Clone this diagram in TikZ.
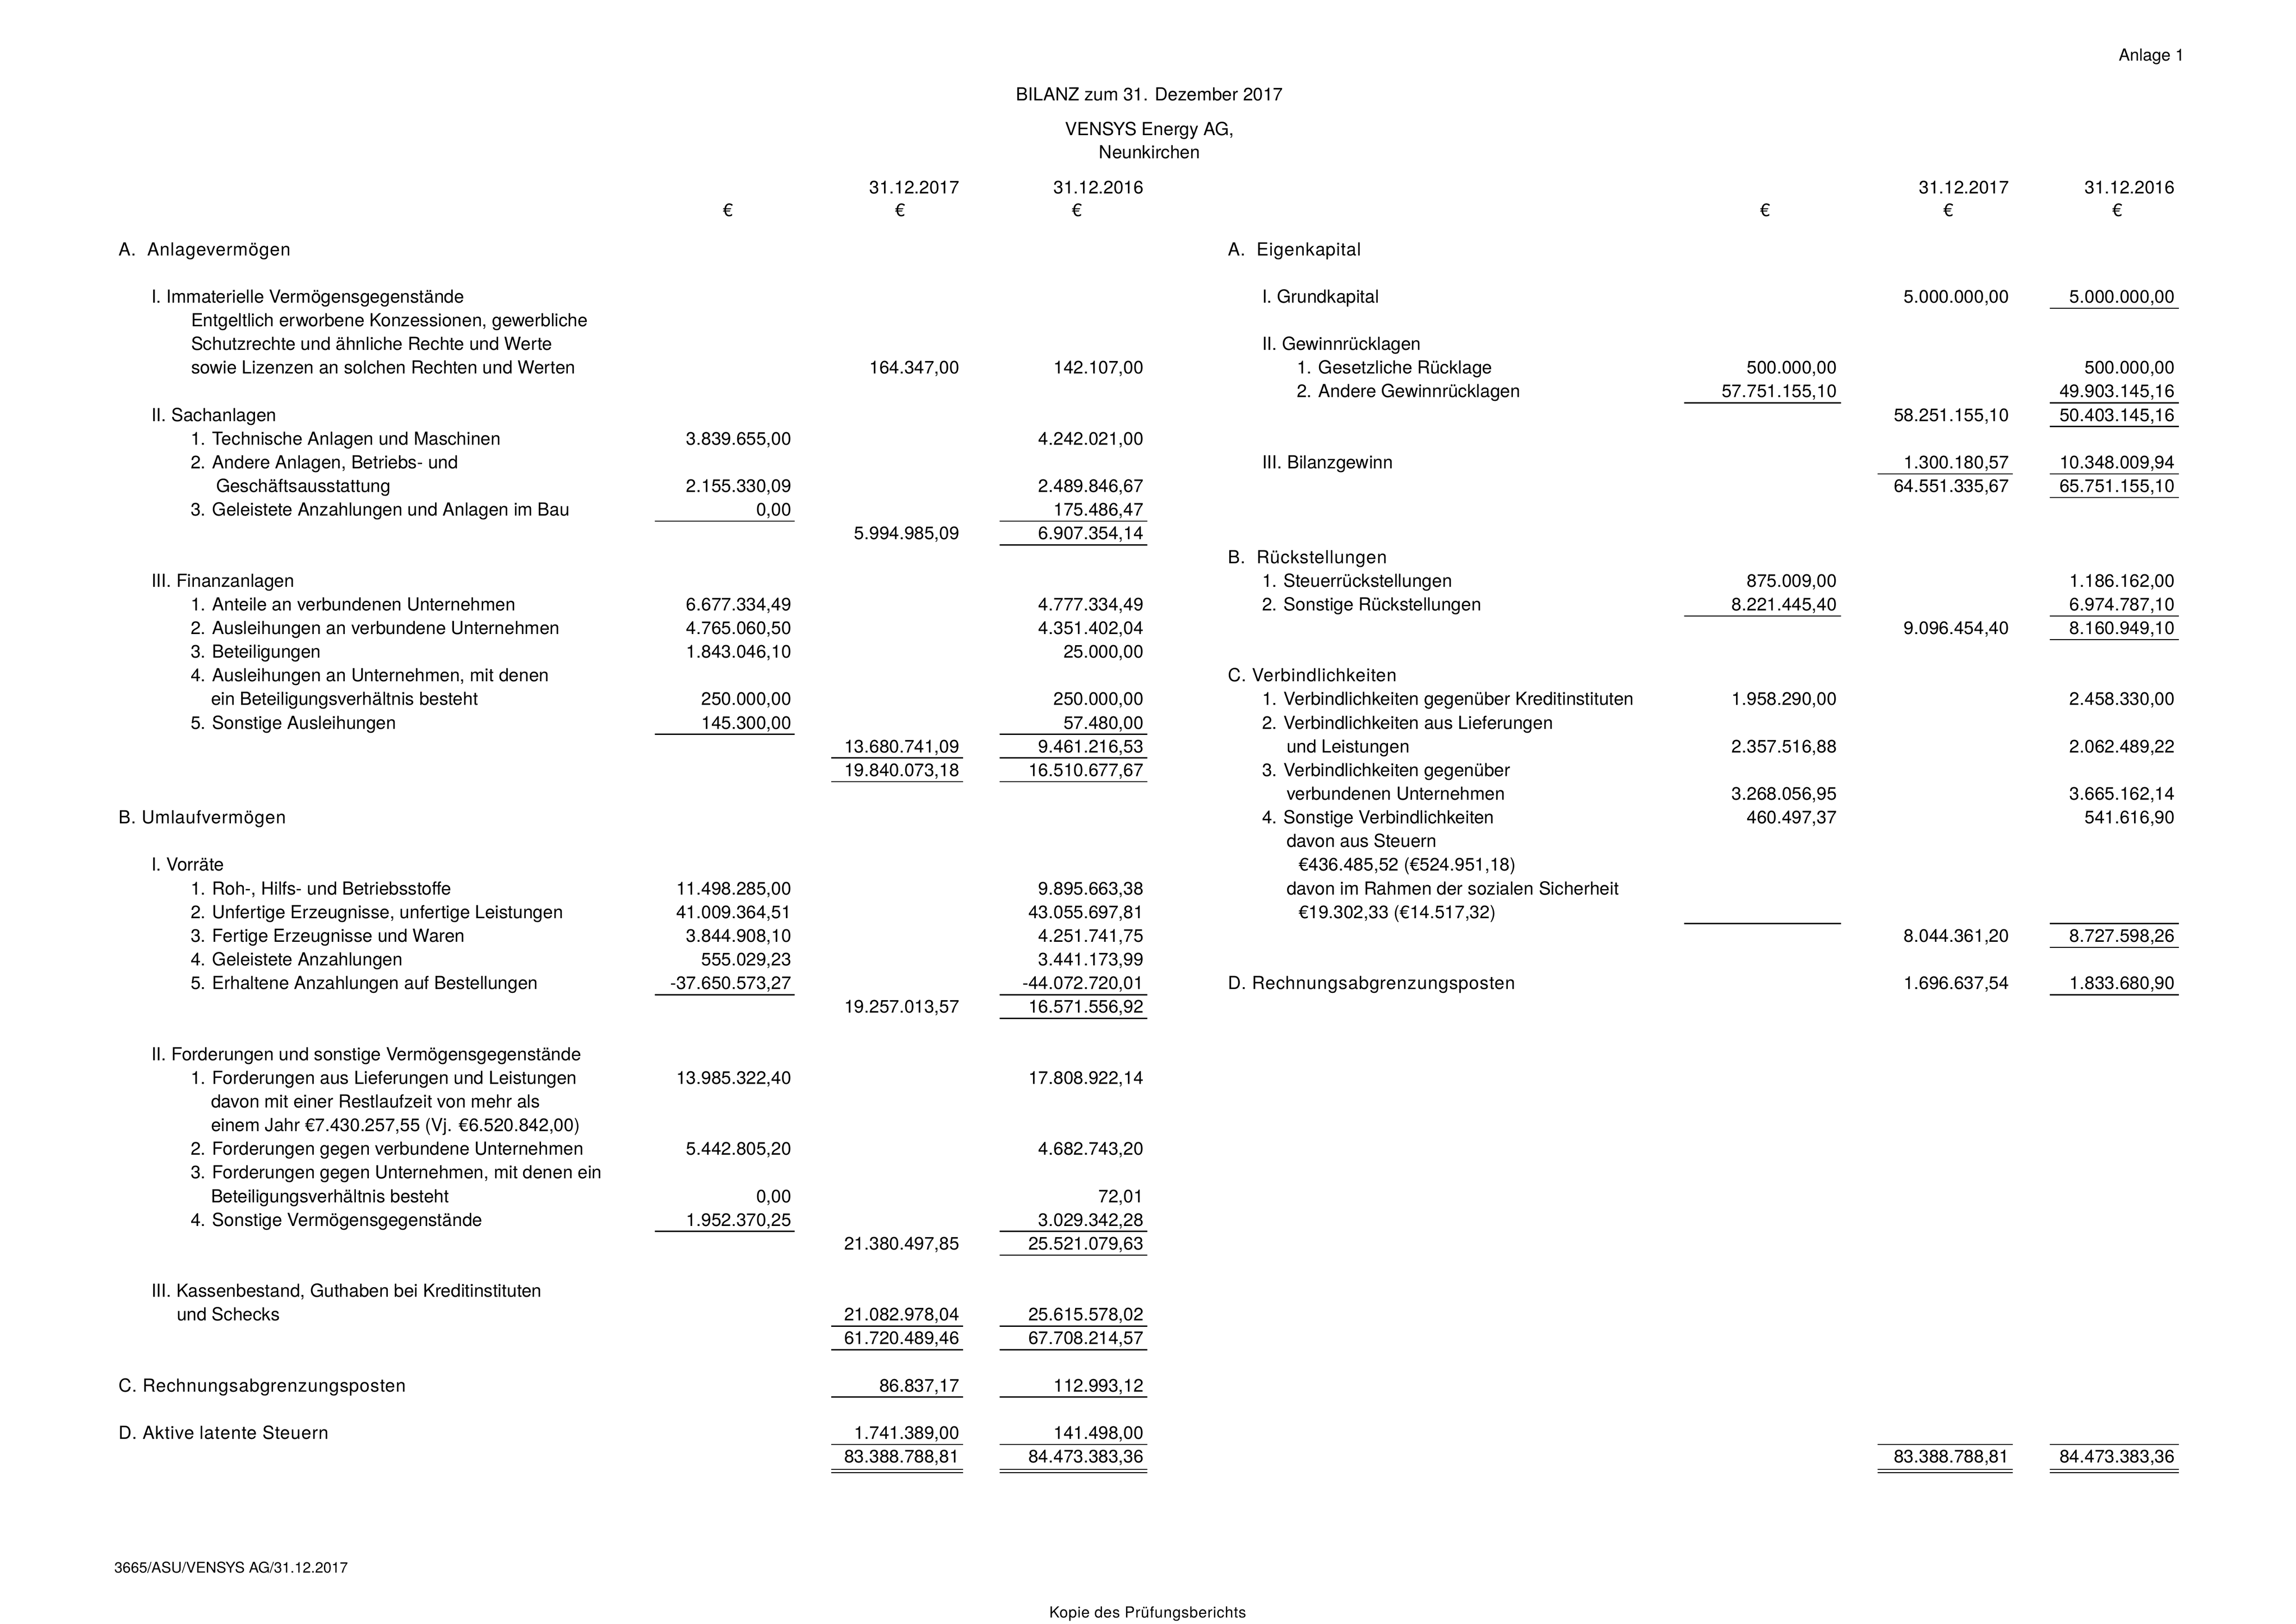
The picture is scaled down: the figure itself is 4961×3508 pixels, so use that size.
\documentclass[tikz,border=0pt]{standalone}
\usepackage{fontspec}
\setmainfont{TeX Gyre Heros}
\newfontfamily\hdfont[LetterSpace=3.3]{TeX Gyre Heros}
\newfontfamily\kpfont[LetterSpace=3.0]{TeX Gyre Heros}
\newcommand\bodysize{\fontsize{6.625pt}{8pt}\selectfont}

\tikzset{
  lab/.style={anchor=base west, inner sep=0pt, outer sep=0pt, font=\bodysize},
  hd/.style={anchor=base west, inner sep=0pt, outer sep=0pt, font=\hdfont\bodysize},
  val/.style={anchor=base east, inner sep=0pt, outer sep=0pt, font=\bodysize},
  ctr/.style={anchor=base, inner sep=0pt, outer sep=0pt, font=\bodysize},
  rule/.style={line width=0.443pt, line cap=butt},
  rulethin/.style={line width=0.42pt, line cap=butt}
}

\newcommand\RowY[1]{552+51.15*(#1)}
\newcommand\Lb[4]{\node[lab] (#1) at (#2,{\RowY{#3}}) {#4};}
\newcommand\Hd[4]{\node[hd] (#1) at (#2,{\RowY{#3}}) {#4};}
\newcommand\Va[4]{\node[val] (#1) at (#2,{\RowY{#3}}) {#4};}
\newcommand\Ul[3]{\draw[rule] (#1,{\RowY{#3}+11.5}) -- (#2,{\RowY{#3}+11.5});}
\newcommand\Dl[3]{\draw[rulethin] (#1,{\RowY{#3}+14}) -- (#2,{\RowY{#3}+14});
  \draw[rulethin] (#1,{\RowY{#3}+21.5}) -- (#2,{\RowY{#3}+21.5});}

\def\xLA{1710}\def\xLB{2073}\def\xLC{2471}
\def\xRA{3969}\def\xRB{4341}\def\xRC{4699}
\newcommand\uLA[1]{\Ul{1415}{1716.5}{#1}}
\newcommand\uLB[1]{\Ul{1796}{2080.5}{#1}}
\newcommand\uLC[1]{\Ul{2160}{2478.5}{#1}}
\newcommand\uRA[1]{\Ul{3638.5}{3977.5}{#1}}
\newcommand\uRB[1]{\Ul{4056.5}{4349}{#1}}
\newcommand\uRC[1]{\Ul{4428.5}{4707.5}{#1}}
\newcommand\dLB[1]{\Dl{1796}{2080.5}{#1}}
\newcommand\dLC[1]{\Dl{2160}{2478.5}{#1}}
\newcommand\dRB[1]{\Dl{4056.5}{4349}{#1}}
\newcommand\dRC[1]{\Dl{4428.5}{4707.5}{#1}}

\begin{document}
\begin{tikzpicture}[x=0.059867mm, y=-0.059867mm]
\fill[white] (0,0) rectangle (4961,3508);
\useasboundingbox (0,0) rectangle (4961,3508);

% ---------- header ----------
\node[anchor=base east, inner sep=0pt, font=\fontsize{6.13pt}{7pt}\selectfont] (anl) at (4722,131.5) {Anlage 1};
\node[ctr] (tit) at (2484,217) {BILANZ zum 31. Dezember 2017};
\node[ctr] (firm) at (2484,292) {VENSYS Energy AG,};
\node[ctr] (ort) at (2484,342) {Neunkirchen};

\node[val] (dLb) at (\xLB,418) {31.12.2017};
\node[val] (dLc) at (\xLC,418) {31.12.2016};
\node[val] (dRb) at (\xRB,418) {31.12.2017};
\node[val] (dRc) at (\xRC,418) {31.12.2016};
\node[ctr] (eLa) at (1573,467) {€};
\node[ctr] (eLb) at (1945,467) {€};
\node[ctr] (eLc) at (2327,467) {€};
\node[ctr] (eRa) at (3814,467) {€};
\node[ctr] (eRb) at (4210,467) {€};
\node[ctr] (eRc) at (4575,467) {€};

% ---------- left side: labels ----------
\Hd{LT0}{256}{0}{A.\ \ Anlagevermögen}
\Lb{LT2}{327}{2}{I. Immaterielle Vermögensgegenstände}
\Lb{LT3}{413}{3}{Entgeltlich erworbene Konzessionen, gewerbliche}
\Lb{LT4}{413}{4}{Schutzrechte und ähnliche Rechte und Werte}
\Lb{LT5}{413}{5}{sowie Lizenzen an solchen Rechten und Werten}
\Lb{LT7}{327}{7}{II. Sachanlagen}
\Lb{LT8}{412}{8}{1. Technische Anlagen und Maschinen}
\Lb{LT9}{412}{9}{2. Andere Anlagen, Betriebs- und}
\Lb{LT10}{467}{10}{Geschäftsausstattung}
\Lb{LT11}{412}{11}{3. Geleistete Anzahlungen und Anlagen im Bau}
\Lb{LT14}{327}{14}{III. Finanzanlagen}
\Lb{LT15}{412}{15}{1. Anteile an verbundenen Unternehmen}
\Lb{LT16}{412}{16}{2. Ausleihungen an verbundene Unternehmen}
\Lb{LT17}{412}{17}{3. Beteiligungen}
\Lb{LT18}{412}{18}{4. Ausleihungen an Unternehmen, mit denen}
\Lb{LT19}{456}{19}{ein Beteiligungsverhältnis besteht}
\Lb{LT20}{412}{20}{5. Sonstige Ausleihungen}
\Hd{LT24}{256}{24}{B. Umlaufvermögen}
\Lb{LT26}{327}{26}{I. Vorräte}
\Lb{LT27}{412}{27}{1. Roh-, Hilfs- und Betriebsstoffe}
\Lb{LT28}{412}{28}{2. Unfertige Erzeugnisse, unfertige Leistungen}
\Lb{LT29}{412}{29}{3. Fertige Erzeugnisse und Waren}
\Lb{LT30}{412}{30}{4. Geleistete Anzahlungen}
\Lb{LT31}{412}{31}{5. Erhaltene Anzahlungen auf Bestellungen}
\Lb{LT34}{327}{34}{II. Forderungen und sonstige Vermögensgegenstände}
\Lb{LT35}{412}{35}{1. Forderungen aus Lieferungen und Leistungen}
\Lb{LT36}{456}{36}{davon mit einer Restlaufzeit von mehr als}
\Lb{LT37}{456}{37}{einem Jahr €7.430.257,55 (Vj. €6.520.842,00)}
\Lb{LT38}{412}{38}{2. Forderungen gegen verbundene Unternehmen}
\Lb{LT39}{412}{39}{3. Forderungen gegen Unternehmen, mit denen ein}
\Lb{LT40}{456}{40}{Beteiligungsverhältnis besteht}
\Lb{LT41}{412}{41}{4. Sonstige Vermögensgegenstände}
\Lb{LT44}{327}{44}{III. Kassenbestand, Guthaben bei Kreditinstituten}
\Lb{LT45}{382}{45}{und Schecks}
\Hd{LT48}{256}{48}{C. Rechnungsabgrenzungsposten}
\Hd{LT50}{256}{50}{D. Aktive latente Steuern}

% ---------- left side: values ----------
\Va{L5b}{\xLB}{5}{164.347,00} \Va{L5c}{\xLC}{5}{142.107,00}
\Va{L8a}{\xLA}{8}{3.839.655,00} \Va{L8c}{\xLC}{8}{4.242.021,00}
\Va{L10a}{\xLA}{10}{2.155.330,09} \Va{L10c}{\xLC}{10}{2.489.846,67}
\Va{L11a}{\xLA}{11}{0,00} \Va{L11c}{\xLC}{11}{175.486,47} \uLA{11} \uLC{11}
\Va{L12b}{\xLB}{12}{5.994.985,09} \Va{L12c}{\xLC}{12}{6.907.354,14} \uLC{12}
\Va{L15a}{\xLA}{15}{6.677.334,49} \Va{L15c}{\xLC}{15}{4.777.334,49}
\Va{L16a}{\xLA}{16}{4.765.060,50} \Va{L16c}{\xLC}{16}{4.351.402,04}
\Va{L17a}{\xLA}{17}{1.843.046,10} \Va{L17c}{\xLC}{17}{25.000,00}
\Va{L19a}{\xLA}{19}{250.000,00} \Va{L19c}{\xLC}{19}{250.000,00}
\Va{L20a}{\xLA}{20}{145.300,00} \Va{L20c}{\xLC}{20}{57.480,00} \uLA{20} \uLC{20}
\Va{L21b}{\xLB}{21}{13.680.741,09} \Va{L21c}{\xLC}{21}{9.461.216,53} \uLB{21} \uLC{21}
\Va{L22b}{\xLB}{22}{19.840.073,18} \Va{L22c}{\xLC}{22}{16.510.677,67} \uLB{22} \uLC{22}
\Va{L27a}{\xLA}{27}{11.498.285,00} \Va{L27c}{\xLC}{27}{9.895.663,38}
\Va{L28a}{\xLA}{28}{41.009.364,51} \Va{L28c}{\xLC}{28}{43.055.697,81}
\Va{L29a}{\xLA}{29}{3.844.908,10} \Va{L29c}{\xLC}{29}{4.251.741,75}
\Va{L30a}{\xLA}{30}{555.029,23} \Va{L30c}{\xLC}{30}{3.441.173,99}
\Va{L31a}{\xLA}{31}{-37.650.573,27} \Va{L31c}{\xLC}{31}{-44.072.720,01} \uLA{31} \uLC{31}
\Va{L32b}{\xLB}{32}{19.257.013,57} \Va{L32c}{\xLC}{32}{16.571.556,92} \uLC{32}
\Va{L35a}{\xLA}{35}{13.985.322,40} \Va{L35c}{\xLC}{35}{17.808.922,14}
\Va{L38a}{\xLA}{38}{5.442.805,20} \Va{L38c}{\xLC}{38}{4.682.743,20}
\Va{L40a}{\xLA}{40}{0,00} \Va{L40c}{\xLC}{40}{72,01}
\Va{L41a}{\xLA}{41}{1.952.370,25} \Va{L41c}{\xLC}{41}{3.029.342,28} \uLA{41} \uLC{41}
\Va{L42b}{\xLB}{42}{21.380.497,85} \Va{L42c}{\xLC}{42}{25.521.079,63} \uLC{42}
\Va{L45b}{\xLB}{45}{21.082.978,04} \Va{L45c}{\xLC}{45}{25.615.578,02} \uLB{45} \uLC{45}
\Va{L46b}{\xLB}{46}{61.720.489,46} \Va{L46c}{\xLC}{46}{67.708.214,57} \uLB{46} \uLC{46}
\Va{L48b}{\xLB}{48}{86.837,17} \Va{L48c}{\xLC}{48}{112.993,12} \uLB{48} \uLC{48}
\Va{L50b}{\xLB}{50}{1.741.389,00} \Va{L50c}{\xLC}{50}{141.498,00} \uLB{50} \uLC{50}
\Va{L51b}{\xLB}{51}{83.388.788,81} \Va{L51c}{\xLC}{51}{84.473.383,36} \dLB{51} \dLC{51}

% ---------- right side: labels ----------
\Hd{RT0}{2653}{0}{A.\ \ Eigenkapital}
\Lb{RT2}{2727}{2}{I. Grundkapital}
\Lb{RT4}{2727}{4}{II. Gewinnrücklagen}
\Lb{RT5}{2802}{5}{1. Gesetzliche Rücklage}
\Lb{RT6}{2802}{6}{2. Andere Gewinnrücklagen}
\Lb{RT9}{2727}{9}{III. Bilanzgewinn}
\Hd{RT13}{2653}{13}{B.\ \ Rückstellungen}
\Lb{RT14}{2727}{14}{1. Steuerrückstellungen}
\Lb{RT15}{2727}{15}{2. Sonstige Rückstellungen}
\Hd{RT18}{2653}{18}{C. Verbindlichkeiten}
\Lb{RT19}{2727}{19}{1. Verbindlichkeiten gegenüber Kreditinstituten}
\Lb{RT20}{2727}{20}{2. Verbindlichkeiten aus Lieferungen}
\Lb{RT21}{2780}{21}{und Leistungen}
\Lb{RT22}{2727}{22}{3. Verbindlichkeiten gegenüber}
\Lb{RT23}{2780}{23}{verbundenen Unternehmen}
\Lb{RT24}{2727}{24}{4. Sonstige Verbindlichkeiten}
\Lb{RT25}{2780}{25}{davon aus Steuern}
\Lb{RT26}{2806}{26}{€436.485,52 (€524.951,18)}
\Lb{RT27}{2780}{27}{davon im Rahmen der sozialen Sicherheit}
\Lb{RT28}{2806}{28}{€19.302,33 (€14.517,32)}
\Hd{RT31}{2653}{31}{D. Rechnungsabgrenzungsposten}

% ---------- right side: values ----------
\Va{R2b}{\xRB}{2}{5.000.000,00} \Va{R2c}{\xRC}{2}{5.000.000,00} \uRC{2}
\Va{R5a}{\xRA}{5}{500.000,00} \Va{R5c}{\xRC}{5}{500.000,00}
\Va{R6a}{\xRA}{6}{57.751.155,10} \Va{R6c}{\xRC}{6}{49.903.145,16} \uRA{6} \uRC{6}
\Va{R7b}{\xRB}{7}{58.251.155,10} \Va{R7c}{\xRC}{7}{50.403.145,16} \uRC{7}
\Va{R9b}{\xRB}{9}{1.300.180,57} \Va{R9c}{\xRC}{9}{10.348.009,94} \uRB{9} \uRC{9}
\Va{R10b}{\xRB}{10}{64.551.335,67} \Va{R10c}{\xRC}{10}{65.751.155,10} \uRC{10}
\Va{R14a}{\xRA}{14}{875.009,00} \Va{R14c}{\xRC}{14}{1.186.162,00}
\Va{R15a}{\xRA}{15}{8.221.445,40} \Va{R15c}{\xRC}{15}{6.974.787,10} \uRA{15} \uRC{15}
\Va{R16b}{\xRB}{16}{9.096.454,40} \Va{R16c}{\xRC}{16}{8.160.949,10} \uRC{16}
\Va{R19a}{\xRA}{19}{1.958.290,00} \Va{R19c}{\xRC}{19}{2.458.330,00}
\Va{R21a}{\xRA}{21}{2.357.516,88} \Va{R21c}{\xRC}{21}{2.062.489,22}
\Va{R23a}{\xRA}{23}{3.268.056,95} \Va{R23c}{\xRC}{23}{3.665.162,14}
\Va{R24a}{\xRA}{24}{460.497,37} \Va{R24c}{\xRC}{24}{541.616,90}
\uRA{28} \uRC{28}
\Va{R29b}{\xRB}{29}{8.044.361,20} \Va{R29c}{\xRC}{29}{8.727.598,26} \uRC{29}
\Va{R31b}{\xRB}{31}{1.696.637,54} \Va{R31c}{\xRC}{31}{1.833.680,90} \uRC{31}
\uRB{50} \uRC{50}
\Va{R51b}{\xRB}{51}{83.388.788,81} \Va{R51c}{\xRC}{51}{84.473.383,36} \dRB{51} \dRC{51}

% ---------- footer ----------
\node[anchor=base west, inner sep=0pt, font=\fontsize{5.45pt}{6pt}\selectfont] (ftl) at (246,3398) {3665/ASU/VENSYS AG/31.12.2017};
\node[anchor=base, inner sep=0pt, font=\kpfont\fontsize{5.62pt}{6pt}\selectfont] (ftc) at (2480,3495) {Kopie des Prüfungsberichts};
\end{tikzpicture}
\end{document}
